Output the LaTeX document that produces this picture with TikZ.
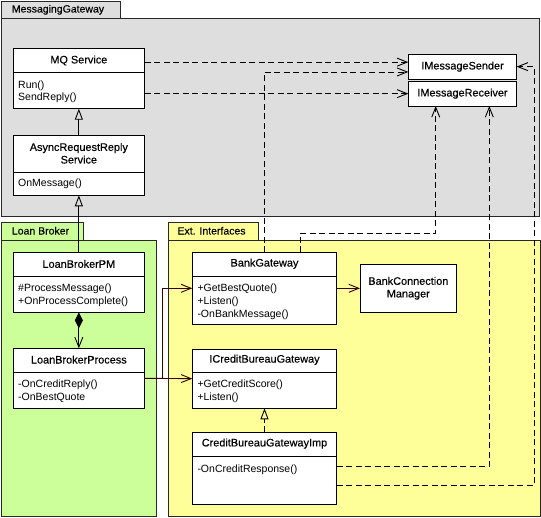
\documentclass[tikz,border=0pt]{standalone}
\usepackage{fontspec}
\setmainfont{Liberation Sans}
\newfontfamily\ttlfont[FakeBold=0.3]{Liberation Sans}
\usetikzlibrary{arrows.meta,calc}
\definecolor{pkggray}{RGB}{222,222,222}
\definecolor{pkggreen}{RGB}{204,255,153}
\definecolor{pkgyellow}{RGB}{255,255,153}
\definecolor{conn}{RGB}{51,0,0}
\definecolor{frame}{RGB}{40,40,40}
\begin{document}
\begin{tikzpicture}[x=1pt,y=-1pt,
  every node/.style={font=\fontsize{10.5}{12.6}\selectfont},
  pkg/.style={draw=frame, line width=0.9pt},
  pkglabel/.style={anchor=west, inner sep=0pt, text height=8pt, text depth=0pt, font=\ttlfont\fontsize{10.5}{12.6}\selectfont},
  cls/.style={draw=black, fill=white, line width=0.9pt, anchor=north west, inner sep=0pt, outer sep=0pt},
  sepline/.style={draw=black, line width=0.9pt},
  ttl/.style={inner sep=0pt, align=center, font=\ttlfont\fontsize{10.9}{12.6}\selectfont},
  mth/.style={anchor=west, inner sep=0pt, text height=8pt, text depth=0pt},
  dep/.style={draw=black, line width=0.9pt, dash pattern=on 6pt off 3.5pt, -{Straight Barb[length=10pt,width=8pt]}},
  assoc/.style={draw=conn, line width=0.9pt, -{Straight Barb[length=10pt,width=8pt]}},
  gen/.style={draw=black, line width=0.9pt, -{Triangle[open,length=11pt,width=8pt]}},
  real/.style={draw=black, line width=0.9pt, dash pattern=on 6pt off 3pt, -{Triangle[open,length=11pt,width=8pt]}},
  comp/.style={draw=black, line width=0.9pt, {Diamond[length=16pt,width=8pt]}-{Straight Barb[length=10pt,width=8pt]}}
]
\useasboundingbox[fill=white] (0,0) rectangle (541,517);

% ---------- packages ----------
\draw[pkg, fill=pkggray] (1,1) rectangle (120,18);
\draw[pkg, fill=pkggray] (1,18) rectangle (539,216);
\node[pkglabel] (pMG) at (11.7,8.5) {MessagingGateway};

\draw[pkg, fill=pkggreen] (1,222.7) rectangle (83.3,240.7);
\draw[pkg, fill=pkggreen] (1,240.7) rectangle (156.7,516);
\node[pkglabel] (pLB) at (11.7,230.5) {Loan Broker};

\draw[pkg, fill=pkgyellow] (168.7,222.7) rectangle (258.7,240.7);
\draw[pkg, fill=pkgyellow] (168.7,240.7) rectangle (540,516);
\node[pkglabel] (pEI) at (177.3,230.5) {Ext. Interfaces};

% ---------- classes ----------
% MQ Service
\node[cls, minimum width=131.7pt, minimum height=60pt] (mq) at (13,48.7) {};
\draw[sepline] ($(mq.north west)+(0,24)$) -- ($(mq.north east)+(0,24)$);
\node[ttl] (mqT) at ($(mq.north)+(0,11.8)$) {MQ Service};
\node[mth] (mqM1) at ($(mq.north west)+(5,35.3)$) {Run()};
\node[mth] (mqM2) at ($(mq.north west)+(5,48)$) {SendReply()};

% AsyncRequestReply Service
\node[cls, minimum width=131.7pt, minimum height=59.6pt] (ars) at (13,135.7) {};
\draw[sepline] ($(ars.north west)+(0,36.3)$) -- ($(ars.north east)+(0,36.3)$);
\node[ttl] (arsT) at ($(ars.north)+(0,17.6)$) {AsyncRequestReply\\Service};
\node[mth] (arsM1) at ($(ars.north west)+(5,46.3)$) {OnMessage()};

% LoanBrokerPM
\node[cls, minimum width=131.7pt, minimum height=60pt] (lbpm) at (13,252.3) {};
\draw[sepline] ($(lbpm.north west)+(0,23.7)$) -- ($(lbpm.north east)+(0,23.7)$);
\node[ttl] (lbpmT) at ($(lbpm.north)+(0,11.6)$) {LoanBrokerPM};
\node[mth] (lbpmM1) at ($(lbpm.north west)+(5,35.4)$) {\#ProcessMessage()};
\node[mth] (lbpmM2) at ($(lbpm.north west)+(5,47.9)$) {+OnProcessComplete()};

% LoanBrokerProcess
\node[cls, minimum width=131.7pt, minimum height=60pt] (lbp) at (13,348.3) {};
\draw[sepline] ($(lbp.north west)+(0,24)$) -- ($(lbp.north east)+(0,24)$);
\node[ttl] (lbpT) at ($(lbp.north)+(0,11.3)$) {LoanBrokerProcess};
\node[mth] (lbpM1) at ($(lbp.north west)+(5,35.2)$) {-OnCreditReply()};
\node[mth] (lbpM2) at ($(lbp.north west)+(5,47.8)$) {-OnBestQuote};

% BankGateway
\node[cls, minimum width=144.4pt, minimum height=72pt] (bg) at (192.3,252.3) {};
\draw[sepline] ($(bg.north west)+(0,24.4)$) -- ($(bg.north east)+(0,24.4)$);
\node[ttl] (bgT) at ($(bg.north)+(0,11.4)$) {BankGateway};
\node[mth] (bgM1) at ($(bg.north west)+(5,35.6)$) {+GetBestQuote()};
\node[mth] (bgM2) at ($(bg.north west)+(5,48.2)$) {+Listen()};
\node[mth] (bgM3) at ($(bg.north west)+(5,61.6)$) {-OnBankMessage()};

% BankConnectionManager
\node[cls, minimum width=96.7pt, minimum height=48pt] (bcm) at (360,264.3) {};
\node[ttl] (bcmT) at ($(bcm.center)+(0,0)$) {BankConnection\\Manager};

% ICreditBureauGateway
\node[cls, minimum width=144.4pt, minimum height=59.3pt] (icbg) at (192.3,349) {};
\draw[sepline] ($(icbg.north west)+(0,23.7)$) -- ($(icbg.north east)+(0,23.7)$);
\node[ttl] (icbgT) at ($(icbg.north)+(0,10.8)$) {ICreditBureauGateway};
\node[mth] (icbgM1) at ($(icbg.north west)+(5,34.6)$) {+GetCreditScore()};
\node[mth] (icbgM2) at ($(icbg.north west)+(5,47.2)$) {+Listen()};

% CreditBureauGatewayImp
\node[cls, minimum width=144.4pt, minimum height=71.7pt] (cbgi) at (192.3,432.3) {};
\draw[sepline] ($(cbgi.north west)+(0,23.7)$) -- ($(cbgi.north east)+(0,23.7)$);
\node[ttl] (cbgiT) at ($(cbgi.north)+(0,11.3)$) {CreditBureauGatewayImp};
\node[mth] (cbgiM1) at ($(cbgi.north west)+(5,36)$) {-OnCreditResponse()};

% IMessageSender / IMessageReceiver
\node[cls, minimum width=108.4pt, minimum height=24.7pt] (ims) at (408.3,54.3) {};
\node[ttl] (imsT) at (ims.center) {IMessageSender};
\node[cls, minimum width=108.4pt, minimum height=24.7pt] (imr) at (408.3,81.3) {};
\node[ttl] (imrT) at (imr.center) {IMessageReceiver};

% ---------- helper coordinates ----------
\coordinate (imsA) at ([yshift=4.5pt]ims.west);
\coordinate (imsB) at ([yshift=-5.3pt]ims.west);
\coordinate (imrA) at ([xshift=-26.8pt]imr.south);
\coordinate (imrB) at ([xshift=26.8pt]imr.south);
\coordinate (bgA) at ([xshift=35.8pt]bg.north);
\coordinate (cbgiA) at ([yshift=1.5pt]cbgi.east);
\coordinate (cbgiB) at ([yshift=-17.5pt]cbgi.east);
\coordinate (br) at ([xshift=17.6pt]lbp.east);

% ---------- connectors ----------
\draw[gen] (ars.north) -- (mq.south);
\draw[gen] (lbpm.north) -- (ars.south);
\draw[comp] (lbpm.south) -- (lbp.north);

\draw[dep] (imsA -| mq.east) -- (imsA);
\draw[dep] (imr.west -| mq.east) -- (imr.west);
\draw[dep] (bg.north) |- (imsB);
\draw[dep] (bgA) -- ++(0,-19) -| (imrA);
\draw[dep] (cbgiA) -| (imrB);
\draw[dep] (cbgiB) -- ++(197.3,0) |- (ims.east);

\draw[assoc] (lbp.east) -- (icbg.west);
\draw[assoc] (br) |- (bg.west);
\draw[assoc] (bg.east) -- (bcm.west);
\draw[real] (cbgi.north) -- (icbg.south);
\end{tikzpicture}
\end{document}
